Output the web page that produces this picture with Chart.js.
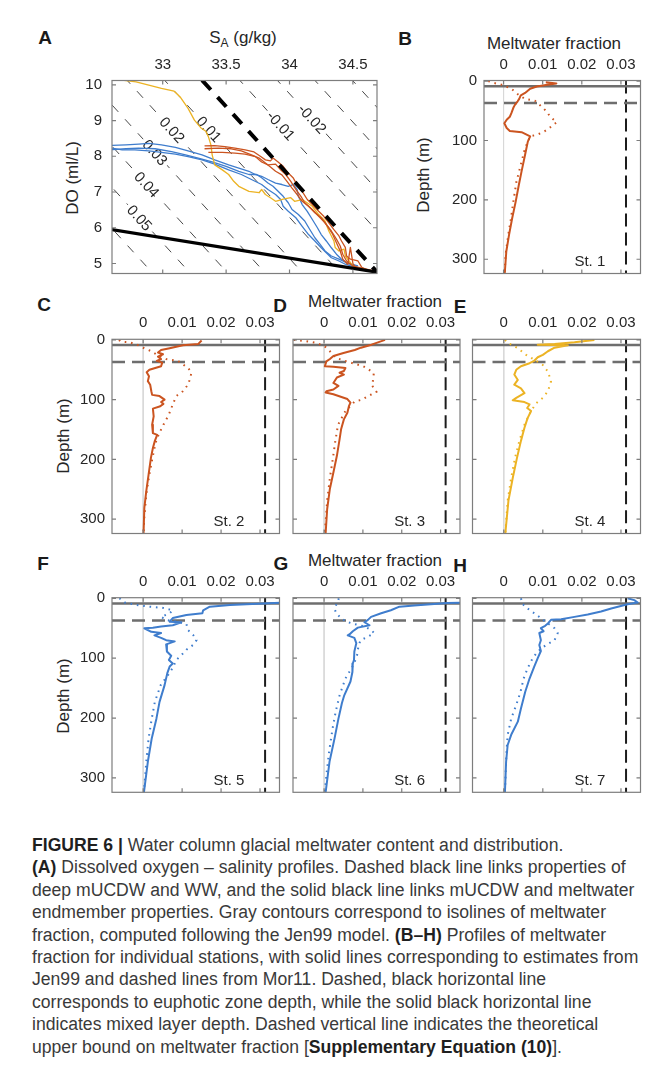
<!DOCTYPE html>
<html lang="en">
<head>
<meta charset="utf-8">
<title>Figure 6 - glacial meltwater content</title>
<script src="https://cdn.jsdelivr.net/npm/chart.js@4.4.1/dist/chart.umd.min.js"></script>
<style>
  html, body { margin: 0; padding: 0; background: #fff; }
  body { position: relative; width: 670px; height: 1091px; overflow: hidden;
         font-family: "Liberation Sans", Arial, Helvetica, sans-serif; color: #262626; }
  canvas { position: absolute; }
  .lab { position: absolute; white-space: nowrap; transform: translate(-50%, -50%); font-size: 17px; line-height: 1; }
  .rot { transform: translate(-50%, -50%) rotate(-90deg); }
  .tag { font-size: 19px; font-weight: bold; color: #1a1a1a; }
  .lab sub { font-size: 12px; vertical-align: -4px; }
  #caption { position: absolute; left: 32px; top: 834px; font-size: 17.6px; line-height: 22.4px;
             color: #3a3a3a; white-space: nowrap; }
  #caption b { color: #1f1f1f; }
</style>
</head>
<body>
<div class="lab tag" style="left:45px;top:37px">A</div>
<div class="lab tag" style="left:405px;top:38px">B</div>
<div class="lab tag" style="left:44px;top:304px">C</div>
<div class="lab tag" style="left:280px;top:305px">D</div>
<div class="lab tag" style="left:460px;top:306px">E</div>
<div class="lab tag" style="left:43px;top:563px">F</div>
<div class="lab tag" style="left:281px;top:563px">G</div>
<div class="lab tag" style="left:460px;top:565px">H</div>

<div class="lab" style="left:243px;top:39px">S<sub>A</sub> (g/kg)</div>
<div class="lab rot" style="left:72px;top:178px">DO (ml/L)</div>
<div class="lab" style="left:554px;top:43px">Meltwater fraction</div>
<div class="lab rot" style="left:423px;top:175px">Depth (m)</div>
<div class="lab" style="left:375px;top:301px">Meltwater fraction</div>
<div class="lab rot" style="left:63px;top:436px">Depth (m)</div>
<div class="lab" style="left:375px;top:560px">Meltwater fraction</div>
<div class="lab rot" style="left:63px;top:696px">Depth (m)</div>

<div id="caption">
<b>FIGURE 6 |</b> Water column glacial meltwater content and distribution.<br>
<b>(A)</b> Dissolved oxygen – salinity profiles. Dashed black line links properties of<br>
deep mUCDW and WW, and the solid black line links mUCDW and meltwater<br>
endmember properties. Gray contours correspond to isolines of meltwater<br>
fraction, computed following the Jen99 model. <b>(B–H)</b> Profiles of meltwater<br>
fraction for individual stations, with solid lines corresponding to estimates from<br>
Jen99 and dashed lines from Mor11. Dashed, black horizontal line<br>
corresponds to euphotic zone depth, while the solid black horizontal line<br>
indicates mixed layer depth. Dashed vertical line indicates the theoretical<br>
upper bound on meltwater fraction [<b>Supplementary Equation (10)</b>].
</div>

<script>
const FONT = '"Liberation Sans", Arial, Helvetica, sans-serif';
const INK = '#262626';
const ORANGE = '#cb5420';
const YELLOW = '#ecb324';
const BLUE = '#3f7dcd';

// ---------- panel A: dissolved oxygen vs absolute salinity ----------
const saTicks = [33, 33.5, 34, 34.5];
const doTicks = [5, 6, 7, 8, 9, 10];
const saRange = [32.6, 34.69];
const doRange = [4.72, 10.12];

const saSt1 = [33.33, 33.41, 33.49, 33.57, 33.65, 33.72, 33.77, 33.81, 33.85, 33.87, 33.91, 33.95, 33.99, 34.03, 34.06, 34.10, 34.14, 34.18, 34.23, 34.27, 34.31, 34.35, 34.39, 34.41, 34.44, 34.45, 34.48, 34.54, 34.57, 34.62];
const doSt1 = [8.29, 8.30, 8.27, 8.23, 8.18, 8.12, 8.00, 7.90, 7.87, 7.95, 7.84, 7.72, 7.53, 7.39, 7.20, 7.02, 6.79, 6.65, 6.46, 6.32, 6.14, 5.95, 5.77, 5.63, 5.45, 5.21, 5.12, 5.07, 4.89, 4.81];
const saSt2 = [33.36, 33.47, 33.57, 33.65, 33.73, 33.78, 33.83, 33.89, 33.93, 33.97, 34.01, 34.05, 34.09, 34.12, 34.18, 34.23, 34.28, 34.33, 34.37, 34.40, 34.42, 34.45, 34.50, 34.57, 34.65];
const doSt2 = [8.11, 8.11, 8.09, 8.06, 7.99, 7.84, 7.76, 7.78, 7.62, 7.49, 7.30, 7.07, 6.88, 6.70, 6.51, 6.32, 6.14, 5.91, 5.68, 5.49, 5.26, 5.07, 4.93, 4.87, 4.81];
const saSt3 = [33.33, 33.44, 33.54, 33.62, 33.70, 33.76, 33.80, 33.85, 33.89, 33.94, 33.98, 34.02, 34.06, 34.10, 34.15, 34.20, 34.25, 34.30, 34.34, 34.37, 34.40, 34.42, 34.46, 34.48, 34.50, 34.52, 34.60];
const doSt3 = [8.21, 8.23, 8.21, 8.15, 8.04, 7.95, 7.84, 7.70, 7.58, 7.48, 7.30, 7.11, 6.93, 6.74, 6.60, 6.42, 6.28, 6.04, 5.82, 5.58, 5.35, 5.12, 4.98, 5.45, 5.00, 4.89, 4.81];
const saSt4 = [32.63, 32.79, 32.89, 32.99, 33.09, 33.14, 33.20, 33.25, 33.30, 33.34, 33.36, 33.38, 33.39, 33.41, 33.47, 33.52, 33.56, 33.60, 33.68, 33.76, 33.78, 33.81, 33.85, 33.89, 33.95, 34.01, 34.04, 34.10, 34.18, 34.23, 34.28, 34.31, 34.35, 34.36, 34.39, 34.43, 34.44, 34.47, 34.50, 34.57, 34.65];
const doSt4 = [10.15, 10.08, 9.99, 9.90, 9.82, 9.65, 9.34, 9.01, 8.80, 8.70, 8.55, 8.32, 8.04, 7.76, 7.62, 7.49, 7.30, 7.16, 7.02, 6.98, 7.07, 6.93, 6.84, 6.74, 6.80, 6.84, 6.74, 6.79, 6.60, 6.37, 6.19, 5.91, 5.63, 5.45, 5.35, 5.40, 5.21, 5.07, 4.93, 4.84, 4.78];
const saSt5 = [32.58, 32.71, 32.81, 32.89, 32.99, 33.10, 33.20, 33.31, 33.41, 33.52, 33.60, 33.68, 33.73, 33.78, 33.83, 33.89, 33.94, 33.99, 34.03, 34.06, 34.07, 34.10, 34.14, 34.18, 34.22, 34.25, 34.29, 34.33, 34.37, 34.41, 34.45, 34.52];
const doSt5 = [8.30, 8.32, 8.34, 8.36, 8.32, 8.25, 8.15, 8.04, 7.90, 7.76, 7.67, 7.58, 7.49, 7.44, 7.35, 7.25, 7.21, 7.16, 7.21, 7.07, 6.88, 6.65, 6.46, 6.23, 6.00, 5.81, 5.63, 5.44, 5.26, 5.12, 5.02, 4.93];
const saSt6 = [32.58, 32.68, 32.78, 32.89, 32.99, 33.10, 33.20, 33.31, 33.41, 33.52, 33.62, 33.70, 33.78, 33.83, 33.89, 33.93, 33.95, 33.99, 34.05, 34.10, 34.15, 34.20, 34.25, 34.29, 34.33, 34.39, 34.44, 34.50];
const doSt6 = [8.24, 8.18, 8.18, 8.15, 8.11, 8.06, 7.99, 7.90, 7.78, 7.62, 7.49, 7.35, 7.21, 7.07, 6.93, 6.79, 6.60, 6.46, 6.28, 6.04, 5.81, 5.63, 5.44, 5.30, 5.16, 5.07, 4.98, 4.91];
const saSt7 = [32.58, 32.71, 32.81, 32.94, 33.07, 33.18, 33.28, 33.39, 33.50, 33.60, 33.68, 33.74, 33.78, 33.83, 33.87, 33.91, 33.95, 33.99, 34.02, 34.07, 34.12, 34.16, 34.20, 34.24, 34.28, 34.33, 34.39, 34.45, 34.54];
const doSt7 = [8.18, 8.21, 8.23, 8.21, 8.13, 8.04, 7.95, 7.84, 7.72, 7.58, 7.49, 7.49, 7.40, 7.25, 7.16, 7.02, 6.88, 6.70, 6.51, 6.37, 6.19, 5.95, 5.72, 5.54, 5.35, 5.21, 5.12, 5.02, 4.93];

// endmembers [S_A, DO]
const mUCDW = [34.69, 4.76];
const winterWater = [33.31, 10.13];
const meltwater = [0, 24.5];

// meltwater fraction isolines, and the labelled ones with the DO where the label sits
const isoLevels = [0.07, 0.06, 0.05, 0.04, 0.03, 0.02, 0.01, -0.01, -0.02, -0.03, -0.04];
const labelLevels = [0.05, 0.04, 0.03, 0.02, 0.01, -0.01, -0.02];
const labelDo = [6.28, 7.21, 8.11, 8.74, 8.76, 8.86, 9.05];

// ---------- panels B-H: meltwater fraction profiles ----------
const fracTicks = [0, 0.01, 0.02, 0.03];
const depthTicks = [0, 100, 200, 300];
const depthRange = [-1, 324];
const fracRangeB = [-0.005, 0.035];
const fracRange = [-0.008, 0.035];
const mixedLayerZ = 8.5;
const euphoticZ = 37;
const upperBound = 0.0313;

// Jen99 (solid) and Mor11 (dotted) estimates, depth in m
const st1JenZ = [2, 4, 6, 9, 13, 20, 24, 30, 34, 40, 45, 54, 60, 65, 71, 79, 84, 86, 93, 102, 124, 152, 175, 203, 231, 259, 287, 324];
const st1Jen = [0.0108, 0.0135, 0.0112, 0.0085, 0.0068, 0.0055, 0.0044, 0.0040, 0.0036, 0.0029, 0.0025, 0.0020, 0.0016, 0.0008, 0.0002, 0.0008, 0.0016, 0.0046, 0.0068, 0.0062, 0.0055, 0.0046, 0.0039, 0.0031, 0.0022, 0.0014, 0.0007, 0.0003];
const st1MorZ = [0, 3, 6, 13, 23, 30, 33, 43, 51, 60, 69, 76, 84, 90, 93, 113, 141, 169, 203, 231, 259, 293, 324];
const st1Mor = [-0.0039, -0.0026, -0.0005, 0.0020, 0.0038, 0.0055, 0.0080, 0.0097, 0.0110, 0.0119, 0.0136, 0.0123, 0.0106, 0.0087, 0.0068, 0.0055, 0.0044, 0.0033, 0.0025, 0.0019, 0.0012, 0.0005, 0.0003];

const st2JenZ = [1, 7, 9, 14, 17, 21, 24, 28, 32, 35, 38, 44, 50, 54, 61, 69, 75, 86, 92, 94, 100, 104, 107, 111, 115, 128, 142, 156, 159, 169, 181, 197, 225, 253, 281, 324];
const st2Jen = [0.0150, 0.0141, 0.0102, 0.0068, 0.0046, 0.0038, 0.0051, 0.0038, 0.0046, 0.0035, 0.0049, 0.0046, 0.0016, 0.0009, 0.0015, 0.0012, 0.0018, 0.0021, 0.0023, 0.0042, 0.0055, 0.0046, 0.0052, 0.0044, 0.0025, 0.0027, 0.0023, 0.0025, 0.0036, 0.0030, 0.0025, 0.0020, 0.0014, 0.0008, 0.0003, 0.0001];
const st2MorZ = [0, 3, 4, 8, 14, 19, 26, 32, 35, 41, 47, 54, 64, 75, 86, 94, 108, 125, 142, 158, 172, 197, 225, 258, 297, 324];
const st2Mor = [-0.0062, -0.0057, -0.0035, -0.0016, 0.0003, 0.0021, 0.0038, 0.0059, 0.0089, 0.0102, 0.0115, 0.0124, 0.0121, 0.0115, 0.0102, 0.0085, 0.0076, 0.0066, 0.0052, 0.0040, 0.0032, 0.0024, 0.0016, 0.0008, 0.0003, 0.0001];

const st3JenZ = [0, 2, 8, 13, 17, 22, 27, 32, 36, 44, 45, 47, 52, 55, 58, 63, 72, 77, 83, 86, 88, 91, 99, 105, 111, 122, 133, 149, 166, 194, 222, 249, 283, 324];
const st3Jen = [0.0157, 0.0148, 0.0122, 0.0095, 0.0079, 0.0050, 0.0024, 0.0015, 0.0006, 0.0002, 0.0024, 0.0055, 0.0051, 0.0040, 0.0051, 0.0033, 0.0024, 0.0037, 0.0024, 0.0006, 0.0004, 0.0024, 0.0060, 0.0068, 0.0064, 0.0060, 0.0051, 0.0044, 0.0040, 0.0033, 0.0024, 0.0015, 0.0008, 0.0004];
const st3MorZ = [0, 2, 5, 11, 19, 30, 36, 42, 44, 48, 56, 68, 75, 87, 94, 100, 103, 119, 142, 169, 197, 231, 269, 324];
const st3Mor = [-0.0078, -0.0047, -0.0020, 0.0002, 0.0015, 0.0030, 0.0058, 0.0090, 0.0100, 0.0112, 0.0128, 0.0126, 0.0122, 0.0135, 0.0113, 0.0098, 0.0079, 0.0055, 0.0036, 0.0029, 0.0023, 0.0015, 0.0008, 0.0002];

const st4JenZ = [0, 4, 7, 8, 9, 13, 19, 25, 29, 35, 39, 44, 50, 58, 67, 75, 81, 89, 97, 101, 104, 108, 114, 119, 131, 147, 169, 197, 231, 269, 324];
const st4Jen = [0.0232, 0.0181, 0.0130, 0.0087, 0.0164, 0.0130, 0.0113, 0.0100, 0.0087, 0.0078, 0.0066, 0.0044, 0.0032, 0.0027, 0.0036, 0.0027, 0.0044, 0.0053, 0.0032, 0.0023, 0.0053, 0.0066, 0.0060, 0.0070, 0.0061, 0.0053, 0.0044, 0.0034, 0.0023, 0.0012, 0.0004];
const st4MorZ = [0, 5, 8, 14, 25, 33, 42, 53, 69, 86, 97, 106, 119, 142, 169, 197, 231, 269, 324];
const st4Mor = [0.0003, 0.0010, 0.0019, 0.0036, 0.0057, 0.0078, 0.0100, 0.0113, 0.0121, 0.0113, 0.0100, 0.0083, 0.0070, 0.0053, 0.0040, 0.0029, 0.0019, 0.0010, 0.0004];

const st5JenZ = [7, 11, 14, 20, 25, 28, 33, 39, 40, 45, 47, 49, 50, 56, 58, 62, 66, 70, 72, 77, 89, 96, 103, 109, 114, 125, 145, 173, 201, 234, 273, 324];
const st5Jen = [0.0370, 0.0223, 0.0171, 0.0154, 0.0152, 0.0111, 0.0076, 0.0068, 0.0098, 0.0076, 0.0046, 0.0025, 0.0003, 0.0021, 0.0046, 0.0029, 0.0046, 0.0059, 0.0081, 0.0059, 0.0061, 0.0072, 0.0066, 0.0076, 0.0068, 0.0062, 0.0055, 0.0042, 0.0034, 0.0022, 0.0012, 0.0002];
const st5MorZ = [0, 7, 12, 14, 16, 20, 25, 31, 36, 39, 43, 53, 61, 70, 78, 86, 95, 103, 116, 128, 145, 173, 201, 234, 273, 324];
const st5Mor = [-0.0061, -0.0048, -0.0009, 0.0016, 0.0051, 0.0076, 0.0068, 0.0046, 0.0059, 0.0085, 0.0111, 0.0115, 0.0128, 0.0137, 0.0128, 0.0111, 0.0098, 0.0085, 0.0076, 0.0064, 0.0045, 0.0030, 0.0022, 0.0014, 0.0008, 0.0002];

const st6JenZ = [7, 8, 10, 12, 14, 20, 25, 31, 36, 40, 45, 49, 55, 60, 62, 66, 75, 89, 103, 109, 123, 139, 162, 175, 201, 234, 273, 324];
const st6Jen = [0.0370, 0.0317, 0.0275, 0.0232, 0.0194, 0.0172, 0.0147, 0.0121, 0.0113, 0.0104, 0.0117, 0.0087, 0.0074, 0.0066, 0.0061, 0.0078, 0.0083, 0.0078, 0.0077, 0.0074, 0.0073, 0.0068, 0.0052, 0.0046, 0.0037, 0.0027, 0.0014, 0.0004];
const st6MorZ = [0, 7, 17, 25, 33, 39, 43, 47, 53, 58, 64, 70, 78, 95, 111, 134, 162, 189, 217, 256, 295, 324];
const st6Mor = [0.0038, 0.0034, 0.0027, 0.0031, 0.0044, 0.0057, 0.0078, 0.0104, 0.0121, 0.0129, 0.0113, 0.0094, 0.0089, 0.0085, 0.0076, 0.0055, 0.0040, 0.0030, 0.0022, 0.0013, 0.0006, 0.0002];

const st7JenZ = [0, 3, 7, 10, 17, 22, 27, 31, 35, 36, 42, 46, 50, 55, 58, 70, 78, 88, 100, 114, 134, 156, 184, 206, 228, 245, 273, 324];
const st7Jen = [0.0317, 0.0334, 0.0343, 0.0317, 0.0275, 0.0249, 0.0215, 0.0181, 0.0147, 0.0121, 0.0113, 0.0106, 0.0095, 0.0102, 0.0091, 0.0095, 0.0091, 0.0095, 0.0087, 0.0078, 0.0066, 0.0055, 0.0044, 0.0036, 0.0019, 0.0010, 0.0006, 0.0003];
const st7MorZ = [0, 10, 17, 25, 33, 42, 50, 58, 70, 78, 89, 100, 117, 134, 156, 178, 201, 228, 256, 324];
const st7Mor = [0.0044, 0.0049, 0.0061, 0.0078, 0.0095, 0.0113, 0.0130, 0.0138, 0.0130, 0.0108, 0.0087, 0.0074, 0.0061, 0.0051, 0.0043, 0.0032, 0.0019, 0.0010, 0.0007, 0.0003];

// where the station name goes (fraction, depth)
const stationLabelX = 0.026;
const stationLabelZ = 311;

// plot rectangles on the page: left, top, right, bottom
const rects = {
  A: [112, 80.5, 377, 273.5],
  B: [484, 80.5, 640.5, 273.5],
  C: [112, 339.3, 279.5, 533.5], D: [293, 339.3, 460, 533.5], E: [472.5, 339.3, 640.5, 533.5],
  F: [112, 597.7, 279.5, 792.3], G: [293, 597.7, 460, 792.3], H: [472.5, 597.7, 640.5, 792.3]
};

Chart.defaults.font.family = FONT;
Chart.defaults.color = INK;

const pts = (xs, ys) => xs.map((x, i) => ({ x: x, y: ys[i] }));
const fmt = v => String(Math.round(v * 1000) / 1000);
const lineBase = { showLine: true, pointRadius: 0, pointHoverRadius: 0, fill: false, tension: 0, borderJoinStyle: 'round' };

// box with inward ticks on all four sides, plus the station name
const frame = {
  id: 'frame',
  afterDatasetsDraw(chart, args, opts) {
    const { ctx, chartArea: a, scales: { x, y } } = chart;
    ctx.save();
    ctx.strokeStyle = '#7d7d7d';
    ctx.lineWidth = 1.2;
    ctx.beginPath();
    x.ticks.forEach(t => {
      const px = x.getPixelForValue(t.value);
      ctx.moveTo(px, a.top); ctx.lineTo(px, a.top + 4);
      ctx.moveTo(px, a.bottom); ctx.lineTo(px, a.bottom - 4);
    });
    y.ticks.forEach(t => {
      const py = y.getPixelForValue(t.value);
      ctx.moveTo(a.left, py); ctx.lineTo(a.left + 4, py);
      ctx.moveTo(a.right, py); ctx.lineTo(a.right - 4, py);
    });
    ctx.stroke();
    ctx.strokeRect(a.left, a.top, a.right - a.left, a.bottom - a.top);
    if (opts && opts.station) {
      ctx.fillStyle = INK;
      ctx.font = '15px ' + FONT;
      ctx.textAlign = 'right';
      ctx.textBaseline = 'alphabetic';
      ctx.fillText(opts.station, x.getPixelForValue(stationLabelX), y.getPixelForValue(stationLabelZ));
    }
    ctx.restore();
  }
};

function mount(rect, padL, padT) {
  const [l, t, r, b] = rect;
  const left = Math.floor(l - padL), top = Math.floor(t - padT);
  const w = Math.ceil(r + 8) - left, h = Math.ceil(b + 8) - top;
  const c = document.createElement('canvas');
  c.width = w; c.height = h;
  c.style.left = left + 'px'; c.style.top = top + 'px';
  c.style.width = w + 'px'; c.style.height = h + 'px';
  document.body.appendChild(c);
  return { canvas: c, fitL: l - left, fitT: t - top, padR: w - (r - left), padB: h - (b - top) };
}

function noPad(s) { s.paddingTop = 0; s.paddingBottom = 0; s.paddingLeft = 0; s.paddingRight = 0; }

function scales(box, xr, yr, xt, yt, reverse, showY, yPad) {
  return {
    x: {
      type: 'linear', position: 'top', min: xr[0], max: xr[1],
      grid: { display: false, drawTicks: false }, border: { display: false },
      afterBuildTicks: s => { s.ticks = xt.map(v => ({ value: v })); },
      afterFit: s => { s.height = box.fitT; noPad(s); },
      ticks: { padding: 7, color: INK, font: { size: 15 }, maxRotation: 0, minRotation: 0, autoSkip: false, callback: v => fmt(v) }
    },
    y: {
      type: 'linear', position: 'left', reverse: reverse, min: yr[0], max: yr[1],
      grid: { display: false, drawTicks: false }, border: { display: false },
      afterBuildTicks: s => { s.ticks = yt.map(v => ({ value: v })); },
      afterFit: s => { s.width = box.fitL; noPad(s); },
      ticks: { display: showY, padding: yPad, color: INK, font: { size: 15 }, autoSkip: false, callback: v => fmt(v) }
    }
  };
}

// ---------- panel A ----------
function isoSa(f, d) {
  const s0 = mUCDW[0] + f * (meltwater[0] - mUCDW[0]);
  const d0 = mUCDW[1] + f * (meltwater[1] - mUCDW[1]);
  const k = (winterWater[1] - mUCDW[1]) / (winterWater[0] - mUCDW[0]);
  return s0 + (d - d0) / k;
}

// labels sit on the isolines, drawn once the last isoline is down
const contourLabels = {
  id: 'contourLabels',
  afterDatasetDraw(chart, args) {
    if (args.index !== 0) return;
    const { ctx, scales: { x, y } } = chart;
    ctx.save();
    ctx.font = '15px ' + FONT;
    ctx.textAlign = 'center';
    ctx.textBaseline = 'middle';
    labelLevels.forEach((f, i) => {
      const d = labelDo[i];
      const px = x.getPixelForValue(isoSa(f, d)), py = y.getPixelForValue(d);
      const ang = Math.atan2(y.getPixelForValue(d - 1) - py, x.getPixelForValue(isoSa(f, d - 1)) - px);
      const txt = fmt(f);
      const w = ctx.measureText(txt).width;
      ctx.save();
      ctx.translate(px, py);
      ctx.rotate(ang);
      ctx.fillStyle = '#fff';
      ctx.fillRect(-w / 2 - 3, -7, w + 6, 14);
      ctx.fillStyle = INK;
      ctx.fillText(txt, 0, 1);
      ctx.restore();
    });
    ctx.restore();
  }
};

const boxA = mount(rects.A, 52, 36);
const isoSets = isoLevels.map(f => Object.assign({}, lineBase, {
  data: [{ x: isoSa(f, 11), y: 11 }, { x: isoSa(f, 4), y: 4 }],
  borderColor: '#333333', borderWidth: 0.9, borderDash: [9, 10], order: 3
}));
const profilesA = [
  [saSt5, doSt5, BLUE, 2.3], [saSt6, doSt6, BLUE, 2.3], [saSt7, doSt7, BLUE, 2.3],
  [saSt4, doSt4, YELLOW, 2.2],
  [saSt1, doSt1, ORANGE, 2.1], [saSt2, doSt2, ORANGE, 2.1], [saSt3, doSt3, ORANGE, 2.1]
].map(([s, d, c, o]) => Object.assign({}, lineBase, { data: pts(s, d), borderColor: c, borderWidth: 1.3, order: o }));

new Chart(boxA.canvas, {
  type: 'scatter',
  data: {
    datasets: isoSets.concat(profilesA, [
      Object.assign({}, lineBase, { data: [{ x: winterWater[0], y: winterWater[1] }, { x: mUCDW[0], y: mUCDW[1] }],
        borderColor: '#000', borderWidth: 4, borderDash: [13, 10], order: 1 }),
      Object.assign({}, lineBase, { data: [{ x: mUCDW[0], y: mUCDW[1] }, { x: meltwater[0], y: meltwater[1] }],
        borderColor: '#000', borderWidth: 3.2, order: 1 })
    ])
  },
  options: {
    responsive: false, animation: false, devicePixelRatio: 1, events: [],
    layout: { padding: { left: 0, top: 0, right: boxA.padR, bottom: boxA.padB } },
    plugins: { legend: { display: false }, tooltip: { enabled: false } },
    scales: scales(boxA, saRange, doRange, saTicks, doTicks, false, true, 10)
  },
  plugins: [contourLabels, frame]
});

// ---------- panels B-H ----------
const stations = [
  { key: 'B', name: 'St. 1', color: ORANGE, jenZ: st1JenZ, jen: st1Jen, morZ: st1MorZ, mor: st1Mor },
  { key: 'C', name: 'St. 2', color: ORANGE, jenZ: st2JenZ, jen: st2Jen, morZ: st2MorZ, mor: st2Mor },
  { key: 'D', name: 'St. 3', color: ORANGE, jenZ: st3JenZ, jen: st3Jen, morZ: st3MorZ, mor: st3Mor },
  { key: 'E', name: 'St. 4', color: YELLOW, jenZ: st4JenZ, jen: st4Jen, morZ: st4MorZ, mor: st4Mor },
  { key: 'F', name: 'St. 5', color: BLUE, jenZ: st5JenZ, jen: st5Jen, morZ: st5MorZ, mor: st5Mor },
  { key: 'G', name: 'St. 6', color: BLUE, jenZ: st6JenZ, jen: st6Jen, morZ: st6MorZ, mor: st6Mor },
  { key: 'H', name: 'St. 7', color: BLUE, jenZ: st7JenZ, jen: st7Jen, morZ: st7MorZ, mor: st7Mor }
];
const withDepthLabels = ['B', 'C', 'F'];

stations.forEach(st => {
  const box = mount(rects[st.key], 50, 33);
  const xr = st.key === 'B' ? fracRangeB : fracRange;
  const seg = (xs, ys, color, width, dash, order) =>
    Object.assign({}, lineBase, { data: pts(xs, ys), borderColor: color, borderWidth: width, borderDash: dash, order: order });
  new Chart(box.canvas, {
    type: 'scatter',
    data: {
      datasets: [
        seg([0, 0], depthRange, '#d8d8d8', 1, [], 5),
        seg(xr, [mixedLayerZ, mixedLayerZ], '#6e6e6e', 2.5, [], 4),
        seg(xr, [euphoticZ, euphoticZ], '#6e6e6e', 2.5, [13, 7], 4),
        seg([upperBound, upperBound], depthRange, '#1c1c1c', 2, [13, 6], 4),
        Object.assign({}, lineBase, { data: pts(st.mor, st.morZ), borderColor: st.color, borderWidth: 2,
          borderDash: [1.6, 4.8], borderCapStyle: 'butt', order: 2 }),
        Object.assign({}, lineBase, { data: pts(st.jen, st.jenZ), borderColor: st.color, borderWidth: 2, order: 1 })
      ]
    },
    options: {
      responsive: false, animation: false, devicePixelRatio: 1, events: [],
      layout: { padding: { left: 0, top: 0, right: box.padR, bottom: box.padB } },
      plugins: { legend: { display: false }, tooltip: { enabled: false }, frame: { station: st.name } },
      scales: scales(box, xr, depthRange, fracTicks, depthTicks, true, withDepthLabels.includes(st.key), 7)
    },
    plugins: [frame]
  });
});
</script>
</body>
</html>
